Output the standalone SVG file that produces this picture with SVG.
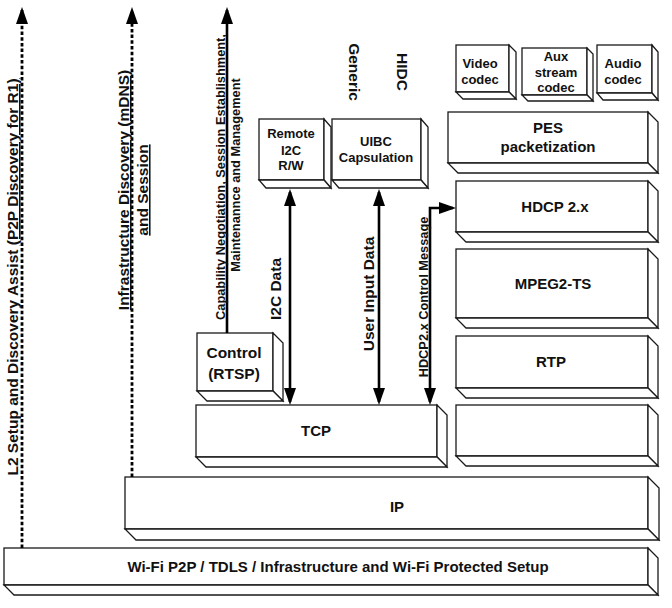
<svg xmlns="http://www.w3.org/2000/svg" width="672" height="608" viewBox="0 0 672 608">
<style>
.box rect,.box polygon{fill:#fff;stroke:#1a1a1a;stroke-width:1.3;stroke-linejoin:miter}
text{font-family:"Liberation Sans",Arial,Helvetica,sans-serif;font-weight:bold;fill:#111}
.c{text-anchor:middle}
.s13{font-size:13px}
.s15{font-size:15px}
.s155{font-size:15.5px}
.s128{font-size:12.8px}
.solid{fill:none;stroke:#000;stroke-width:2.6}
.dash{fill:none;stroke:#000;stroke-width:2.8;stroke-dasharray:3.5 2.2}
.u{text-decoration:underline}
</style>
<defs>
<marker id="ah" markerUnits="userSpaceOnUse" markerWidth="18" markerHeight="12" refX="14" refY="6" orient="auto-start-reverse" viewBox="0 0 18 12">
<path d="M0,0 L17,6 L0,12 z" fill="#000"/>
</marker>
</defs>

<!-- Nodes -->
<g id="wifi" class="box">
<rect x="4" y="548" width="644" height="37"/>
<polygon points="648,548 658,558 658,595 648,585"/>
<polygon points="4,585 648,585 658,595 14,595"/>
<text class="c s15" x="338" y="572">Wi-Fi P2P / TDLS / Infrastructure and Wi-Fi Protected Setup</text>
</g>
<g id="ip" class="box">
<rect x="125" y="477" width="523" height="52"/>
<polygon points="648,477 659,488 659,540 648,529"/>
<polygon points="125,529 648,529 659,540 136,540"/>
<text class="c s15" x="397" y="512">IP</text>
</g>
<g id="tcp" class="box">
<rect x="196" y="405" width="241" height="52"/>
<polygon points="437,405 447,415 447,467 437,457"/>
<polygon points="196,457 437,457 447,467 206,467"/>
<text class="c s15" x="316" y="436">TCP</text>
</g>
<g id="empty" class="box">
<rect x="456" y="405" width="192" height="51"/>
<polygon points="648,405 658,415 658,466 648,456"/>
<polygon points="456,456 648,456 658,466 466,466"/>
</g>
<g id="rtp" class="box">
<rect x="456" y="336" width="192" height="52"/>
<polygon points="648,336 658,346 658,398 648,388"/>
<polygon points="456,388 648,388 658,398 466,398"/>
<text class="c s15" x="551" y="367">RTP</text>
</g>
<g id="mpeg2ts" class="box">
<rect x="456" y="249" width="192" height="69"/>
<polygon points="648,249 658,259 658,328 648,318"/>
<polygon points="456,318 648,318 658,328 466,328"/>
<text class="c s15" x="553" y="289">MPEG2-TS</text>
</g>
<g id="hdcp" class="box">
<rect x="456" y="181" width="192" height="51"/>
<polygon points="648,181 658,191 658,242 648,232"/>
<polygon points="456,232 648,232 658,242 466,242"/>
<text class="c s15" x="555" y="212">HDCP 2.x</text>
</g>
<g id="pes" class="box">
<rect x="448" y="112" width="200" height="51"/>
<polygon points="648,112 658,122 658,173 648,163"/>
<polygon points="448,163 648,163 658,173 458,173"/>
<text class="c s15" x="548" y="133">PES</text>
<text class="c s15" x="548" y="152">packetization</text>
</g>
<g id="video" class="box">
<rect x="456" y="45" width="53" height="47"/>
<polygon points="509,45 516,52 516,99 509,92"/>
<polygon points="456,92 509,92 516,99 463,99"/>
<text class="c s13" x="480" y="68">Video</text>
<text class="c s13" x="480" y="84">codec</text>
</g>
<g id="aux" class="box">
<rect x="522" y="48" width="65" height="47"/>
<polygon points="587,48 593,54 593,101 587,95"/>
<polygon points="522,95 587,95 593,101 528,101"/>
<text class="c s13" x="556" y="61">Aux</text>
<text class="c s13" x="556" y="77">stream</text>
<text class="c s13" x="556" y="92">codec</text>
</g>
<g id="audio" class="box">
<rect x="597" y="45" width="55" height="48"/>
<polygon points="652,45 658,52 658,100 652,93"/>
<polygon points="597,93 652,93 658,100 603,100"/>
<text class="c s13" x="623" y="68">Audio</text>
<text class="c s13" x="623" y="84">codec</text>
</g>
<g id="remote" class="box">
<rect x="259" y="119" width="65" height="61"/>
<polygon points="324,119 331,127 331,188 324,180"/>
<polygon points="259,180 324,180 331,188 266,188"/>
<text class="c s13" x="291" y="138">Remote</text>
<text class="c s13" x="291" y="155">I2C</text>
<text class="c s13" x="291" y="170">R/W</text>
</g>
<g id="uibc" class="box">
<rect x="332" y="119" width="89" height="61"/>
<polygon points="421,119 428,127 428,188 421,180"/>
<polygon points="332,180 421,180 428,188 339,188"/>
<text class="c s13" x="376" y="146">UIBC</text>
<text class="c s13" x="376" y="162">Capsulation</text>
</g>
<g id="control" class="box">
<rect x="197" y="333" width="76" height="58"/>
<polygon points="273,333 283,343 283,401 273,391"/>
<polygon points="197,391 273,391 283,401 207,401"/>
<text class="c s155" x="234" y="358">Control</text>
<text class="c s155" x="234" y="379">(RTSP)</text>
</g>

<!-- Connectors -->
<g id="connectors">
<line class="dash" x1="22" y1="548" x2="22" y2="10" marker-end="url(#ah)"/>
<line class="dash" x1="132" y1="477" x2="132" y2="10" marker-end="url(#ah)"/>
<line class="solid" x1="227" y1="333" x2="227" y2="10" marker-end="url(#ah)"/>
<line class="solid" x1="290" y1="192" x2="290" y2="402" marker-start="url(#ah)" marker-end="url(#ah)"/>
<line class="solid" x1="379" y1="192" x2="379" y2="402" marker-start="url(#ah)" marker-end="url(#ah)"/>
<path class="solid" d="M430,402 L430,208 L453,208" marker-start="url(#ah)" marker-end="url(#ah)"/>
</g>

<!-- Labels -->
<g id="labels">
<text class="c s155" transform="translate(18,277) rotate(-90)">L2 Setup and Discovery Assist <tspan class="u">(P2P Discovery for R1)</tspan></text>
<text class="c s155 u" transform="translate(129,190) rotate(-90)">Infrastructure Discovery (mDNS)</text>
<text class="c s155 u" transform="translate(148,190) rotate(-90)">and Session</text>
<text class="c s128" transform="translate(225,177) rotate(-90)">Capability Negotiation, Session Establishment,</text>
<text class="c s128" transform="translate(240,175) rotate(-90)">Maintenannce and Management</text>
<text class="c s155" transform="translate(281,289) rotate(-90)">I2C Data</text>
<text class="c s155" transform="translate(374,294) rotate(-90)">User Input Data</text>
<text class="c s128" transform="translate(428,297) rotate(-90)">HDCP2.x Control Message</text>
<text class="c s155" transform="translate(349,72) rotate(90)">Generic</text>
<text class="c s155" transform="translate(397,72) rotate(90)">HIDC</text>
</g>
</svg>
